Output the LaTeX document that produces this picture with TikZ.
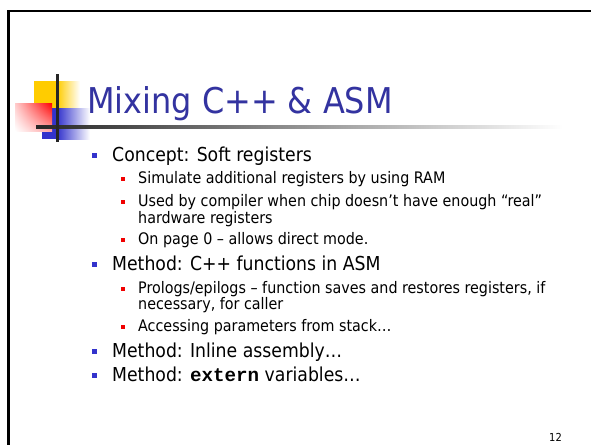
\documentclass[tikz,border=0pt]{standalone}
\usepackage{fontspec}
\setmainfont{DejaVu Sans Condensed}
\newfontfamily\courfont{Liberation Mono}
\usetikzlibrary{shadings}
\definecolor{titleblue}{RGB}{51,51,160}
\definecolor{bulblue}{RGB}{51,51,204}
\definecolor{bulred}{RGB}{240,0,0}
\definecolor{deco}{RGB}{255,204,0}
\tikzset{
  lone/.style={anchor=base west, inner sep=0pt, font=\fontsize{19.2}{22}\selectfont},
  ltwo/.style={anchor=base west, inner sep=0pt, font=\fontsize{15.9}{17}\selectfont},
  bone/.style={fill=bulblue, minimum size=5pt, inner sep=0pt, draw=none},
  btwo/.style={fill=bulred, minimum size=4pt, inner sep=0pt, draw=none},
}
\begin{document}
\begin{tikzpicture}[x=1pt,y=-1pt]
\useasboundingbox (0,0) rectangle (591,444);
\fill[white] (0,0) rectangle (591,444);
% frame
\draw[line width=2.6pt] (8.5,450) -- (8.5,11) -- (600,11);
% decoration
\fill[deco] (34,81) rectangle (57,108);
\shade[left color=deco, right color=white] (57,81) rectangle (80,108);
\fill[bulblue] (42,108) rectangle (57,139);
\shade[left color=bulblue, right color=white] (57,108) rectangle (90,139);
\shade[upper right=red, lower right=red!35, upper left=red!20, lower left=white] (15,103) rectangle (52,131);
\shade[left color=black!85, right color=white] (36,125.5) rectangle (563,128.5);
\fill[black!85] (56,74) rectangle (59,142);
% title
\node[anchor=base west, inner sep=0pt, text=titleblue, font=\fontsize{35.5}{40}\selectfont] (title) at (87,113) {Mixing C++ \& ASM};
% bullets
\node[bone] (b1) at (94.5,155.8) {};
\node[lone] (t1) at (112,161) {Concept: Soft registers};
\node[btwo] (b11) at (123,179) {};
\node[ltwo] (t11) at (138,183) {Simulate additional registers by using RAM};
\node[btwo] (b12) at (123,202) {};
\node[ltwo] (t12) at (138,206) {Used by compiler when chip doesn’t have enough “real”};
\node[ltwo] (t12b) at (138,223) {hardware registers};
\node[btwo] (b13) at (123,240) {};
\node[ltwo] (t13) at (138,244) {On page 0 – allows direct mode.};
\node[bone] (b2) at (94.5,264.8) {};
\node[lone] (t2) at (112,270) {Method: C++ functions in ASM};
\node[btwo] (b21) at (123,289) {};
\node[ltwo] (t21) at (138,293) {Prologs/epilogs – function saves and restores registers, if};
\node[ltwo] (t21b) at (138,309) {necessary, for caller};
\node[btwo] (b22) at (123,327) {};
\node[ltwo] (t22) at (138,331) {Accessing parameters from stack…};
\node[bone] (b3) at (94.5,351.8) {};
\node[lone] (t3) at (112,357) {Method: Inline assembly…};
\node[bone] (b4) at (94.5,375.8) {};
\node[lone] (t4) at (112,381) {Method: {\courfont\bfseries extern} variables…};
\node[anchor=base east, inner sep=0pt, font=\fontsize{11}{13}\selectfont] (pg) at (562,441) {12};
\end{tikzpicture}
\end{document}
